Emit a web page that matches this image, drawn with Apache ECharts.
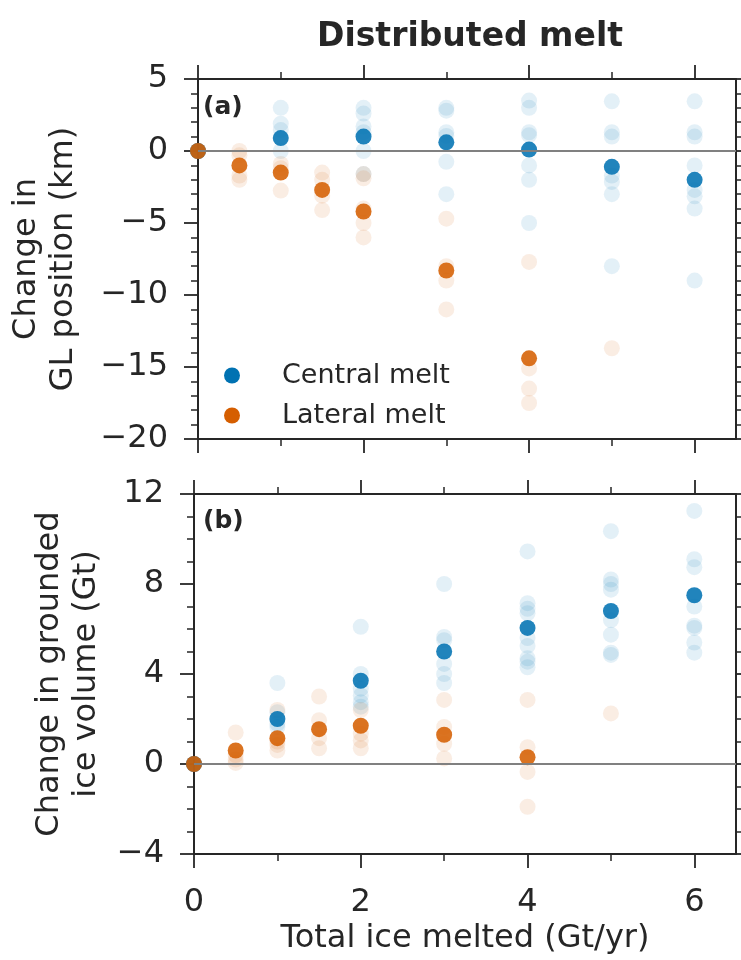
<!DOCTYPE html>
<html>
<head>
<meta charset="utf-8">
<script src="https://cdn.jsdelivr.net/npm/echarts@6/dist/echarts.min.js"></script>
<style>
  html, body { margin: 0; padding: 0; background: #fff; }
  #chart { width: 741px; height: 960px; }
</style>
</head>
<body>
<div id="chart"></div>
<script>
// melt amounts (Gt/yr)
const centralX = [0, 1, 2, 3, 4, 5, 6];
const lateralX = [0, 0.5, 1, 1.5, 2, 3, 4];
const lateralRunX = [0, 0.5, 1, 1.5, 2, 3, 4, 5];

// (a) change in GL position (km) - ensemble means
const glCentral = [0, 0.9, 1.0, 0.6, 0.1, -1.1, -2.0];
const glLateral = [0, -1.0, -1.5, -2.7, -4.2, -8.3, -14.4];
// individual runs (faint)
const glCentralRuns = [
  [0],
  [3.0, 1.9, 1.45, 0.0],
  [3.0, 2.6, 1.7, 1.3, 0.0, -1.6],
  [3.0, 2.8, 1.3, 1.05, -0.75, -3.0],
  [3.5, 3.0, 1.3, 1.1, -1.0, -2.0, -5.0],
  [3.45, 1.3, 1.0, -1.7, -2.15, -3.0, -8.0],
  [3.45, 1.3, 1.0, -1.0, -2.7, -3.15, -4.0, -9.0]
];
const glLateralRuns = [
  [0],
  [0, -0.3, -1.7, -2.0],
  [-0.9, -1.2, -2.75],
  [-1.5, -2.0, -3.1, -4.1],
  [-1.6, -1.9, -4.0, -5.0, -6.0],
  [-4.7, -8.0, -9.0, -11.0],
  [-7.7, -15.1, -16.5, -17.5],
  [-13.7]
];

// (b) change in grounded ice volume (Gt)
const volCentral = [0, 2.0, 3.7, 5.0, 6.05, 6.8, 7.5];
const volLateral = [0, 0.6, 1.15, 1.55, 1.7, 1.3, 0.3];
const volCentralRuns = [
  [0],
  [3.6, 2.3, 1.8, 1.65],
  [6.1, 4.0, 3.35, 3.05, 2.75, 2.55],
  [8.0, 5.65, 5.5, 4.45, 4.0, 3.6],
  [9.45, 7.15, 6.9, 6.7, 5.6, 5.25, 4.7, 4.55, 4.3],
  [10.35, 8.2, 8.0, 7.75, 6.4, 5.75, 4.95, 4.85],
  [11.25, 9.1, 8.75, 7.0, 6.15, 6.05, 5.4, 4.95]
];
const volLateralRuns = [
  [0],
  [1.4, 0.4, 0.2, 0.05],
  [2.4, 1.0, 0.85, 0.6],
  [3.0, 1.95, 1.15, 0.7],
  [2.4, 1.35, 1.05, 0.7],
  [2.85, 1.65, 0.9, 0.25],
  [2.85, 0.75, -0.35, -1.9],
  [2.25]
];

const xMajor = [0, 2, 4, 6];
const xMinor = [1, 3, 5];

const BLUE = '#0072B2';
const ORANGE = '#D55E00';
const INK = '#262626';
const FONT = 'DejaVu Sans';

const pairs = (xs, ys) => xs.map((x, i) => [x, ys[i]]);
const runPairs = (xs, runs) => {
  const out = [];
  runs.forEach((list, i) => list.forEach(v => out.push([xs[i], v])));
  return out;
};
const minus = v => String(v).replace('-', '\u2212');

const myChart = echarts.init(document.getElementById('chart'));

const lineStyle = { color: INK, width: 2 };

const xAxisPair = (grid, pos, labels, name) => [
  {
    type: 'value', gridIndex: grid, position: pos, min: 0, max: 6.5,
    axisLine: { show: true, onZero: false, lineStyle },
    axisTick: { show: true, length: 14, customValues: xMajor, lineStyle: { color: INK, width: 1.8 } },
    axisLabel: labels ? {
      show: true, customValues: xMajor, margin: 33,
      color: INK, fontSize: 32, fontFamily: FONT
    } : { show: false },
    splitLine: { show: false },
    name: name || '', nameLocation: 'middle', nameGap: 69,
    nameTextStyle: { color: INK, fontSize: 32, fontFamily: FONT }
  },
  {
    type: 'value', gridIndex: grid, position: pos, min: 0, max: 6.5,
    axisLine: { show: false, onZero: false },
    axisTick: { show: true, length: 7, customValues: xMinor, lineStyle: { color: INK, width: 1.5 } },
    axisLabel: { show: false },
    splitLine: { show: false }
  }
];

const yAxisFor = (grid, pos, min, max, interval, minorSplit, name, nameGap) => ({
  type: 'value', gridIndex: grid, position: pos, min, max, interval,
  axisLine: { show: true, onZero: false, lineStyle },
  axisTick: { show: true, length: 14, lineStyle: { color: INK, width: 1.8 } },
  minorTick: { show: true, splitNumber: minorSplit, length: 7, lineStyle: { color: INK, width: 1.5 } },
  axisLabel: pos === 'left' ? {
    show: true, margin: 30, color: INK, fontSize: 32, fontFamily: FONT,
    formatter: v => minus(v)
  } : { show: false },
  splitLine: { show: false },
  name: name || '', nameLocation: 'middle', nameRotate: 90, nameGap: nameGap || 0,
  nameTextStyle: { color: INK, fontSize: 32, lineHeight: 37, fontFamily: FONT, align: 'center' }
});

const zeroLine = {
  silent: true, symbol: 'none', label: { show: false },
  lineStyle: { color: '#808080', width: 2, type: 'solid' },
  data: [{ yAxis: 0 }]
};

const faint = (name, color, data, xi, yi, withZero) => ({
  name, type: 'scatter', xAxisIndex: xi, yAxisIndex: yi,
  symbolSize: 16, data, z: 2,
  itemStyle: { color, opacity: 0.11 },
  markLine: withZero ? zeroLine : undefined
});
const main = (name, color, data, xi, yi, z) => ({
  name, type: 'scatter', xAxisIndex: xi, yAxisIndex: yi,
  symbolSize: 16, data, z,
  itemStyle: { color, opacity: 0.87 }
});

const option = {
  animation: false,
  backgroundColor: '#fff',
  title: [
    { text: 'Distributed melt', left: 465, top: 16, textAlign: 'center',
      textStyle: { color: INK, fontSize: 33, fontWeight: 'bold', fontFamily: FONT } },
    { text: '(a)', left: 198, top: 90,
      textStyle: { color: INK, fontSize: 25, fontWeight: 'bold', fontFamily: FONT } },
    { text: '(b)', left: 198, top: 504,
      textStyle: { color: INK, fontSize: 25, fontWeight: 'bold', fontFamily: FONT } }
  ],
  legend: {
    data: ['Central melt', 'Lateral melt'],
    orient: 'vertical', left: 219, top: 357,
    itemWidth: 90, itemHeight: 16, itemGap: 13,
    icon: 'circle',
    itemStyle: { opacity: 1 },
    textStyle: { color: INK, fontSize: 27, fontFamily: FONT }
  },
  grid: [
    { left: 194, right: 5, top: 79, height: 360 },
    { left: 194, right: 5, top: 494, height: 360 }
  ],
  xAxis: [
    ...xAxisPair(0, 'bottom', false),
    ...xAxisPair(0, 'top', false),
    ...xAxisPair(1, 'bottom', true, 'Total ice melted (Gt/yr)'),
    ...xAxisPair(1, 'top', false)
  ],
  yAxis: [
    yAxisFor(0, 'left', -20, 5, 5, 5, 'Change in\nGL position (km)', 116),
    yAxisFor(0, 'right', -20, 5, 5, 5),
    yAxisFor(1, 'left', -4, 12, 4, 4, 'Change in grounded\nice volume (Gt)', 89),
    yAxisFor(1, 'right', -4, 12, 4, 4)
  ],
  series: [
    faint('Central runs', BLUE, runPairs(centralX, glCentralRuns), 0, 0, true),
    faint('Lateral runs', ORANGE, runPairs(lateralRunX, glLateralRuns), 0, 0, false),
    main('Central melt', BLUE, pairs(centralX, glCentral), 0, 0, 3),
    main('Lateral melt', ORANGE, pairs(lateralX, glLateral), 0, 0, 4),
    faint('Central runs', BLUE, runPairs(centralX, volCentralRuns), 4, 2, true),
    faint('Lateral runs', ORANGE, runPairs(lateralRunX, volLateralRuns), 4, 2, false),
    main('Central melt', BLUE, pairs(centralX, volCentral), 4, 2, 3),
    main('Lateral melt', ORANGE, pairs(lateralX, volLateral), 4, 2, 4)
  ]
};

myChart.setOption(option);
</script>
</body>
</html>
